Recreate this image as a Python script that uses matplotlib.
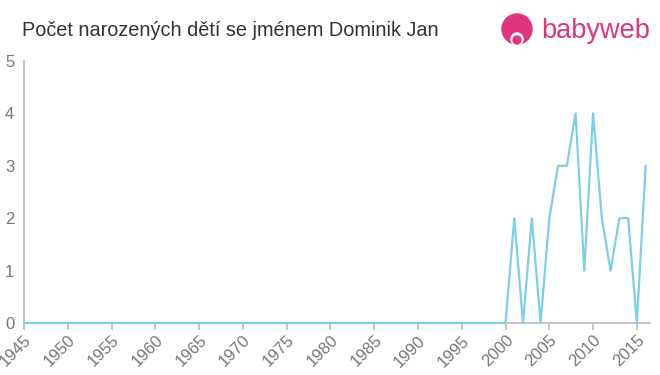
import matplotlib
matplotlib.use("Agg")
import matplotlib.pyplot as plt
from matplotlib.patches import Circle

plt.rcParams['font.family'] = ['Liberation Sans', 'DejaVu Sans']

years = list(range(1945, 2017))
values_recent = [0, 2, 0, 2, 0, 2, 3, 3, 4, 1, 4, 2, 1, 2, 2, 0, 3]  # 2000..2016
values = [0] * (2000 - 1945) + values_recent
xticks = list(range(1945, 2016, 5))
yticks = [0, 1, 2, 3, 4, 5]
title = "Počet narozených dětí se jménem Dominik Jan"

fig = plt.figure(figsize=(6.6, 3.75), dpi=100)
ax = fig.add_axes([24/660, 1 - 323/375, (650 - 24)/660, (323 - 61)/375])
ax.plot(years, values, color='#7ccfe9', linewidth=1.6, clip_on=False, zorder=3)
ax.set_xlim(1945, 2016.5)
ax.set_ylim(0, 5)
ax.set_xticks(xticks)
ax.set_yticks(yticks)
ax.set_xticklabels([str(t) for t in xticks], rotation=45, ha='right', va='top',
                   rotation_mode='anchor', fontsize=12, color='#777777')
ax.set_yticklabels([str(t) for t in yticks], fontsize=12, color='#777777')
for s in ['top', 'right']:
    ax.spines[s].set_visible(False)
for s in ['left', 'bottom']:
    ax.spines[s].set_color('#bbbbbb')
    ax.spines[s].set_linewidth(1.2)
ax.tick_params(axis='both', colors='#bbbbbb', length=5, width=1.2, labelcolor='#777777')
ax.tick_params(axis='y', length=0, pad=7)
ax.tick_params(axis='x', pad=2)

fig.text(22/660, 1 - 30/375, title, fontsize=14.3, color='#333333', va='center', ha='left')

# logo
pink = '#e0347f'
lax = fig.add_axes([0, 0, 1, 1], facecolor='none')
lax.set_xlim(0, 660)
lax.set_ylim(375, 0)
lax.axis('off')
lax.add_patch(Circle((517, 29), 15, color=pink))
lax.add_patch(Circle((517, 39), 6, color='white'))
lax.add_patch(Circle((517, 40), 4, color=pink))
lax.text(541, 31, 'babyweb', fontsize=19.5, color=pink, va='center', ha='left')

fig.savefig('out.png', dpi=100)
